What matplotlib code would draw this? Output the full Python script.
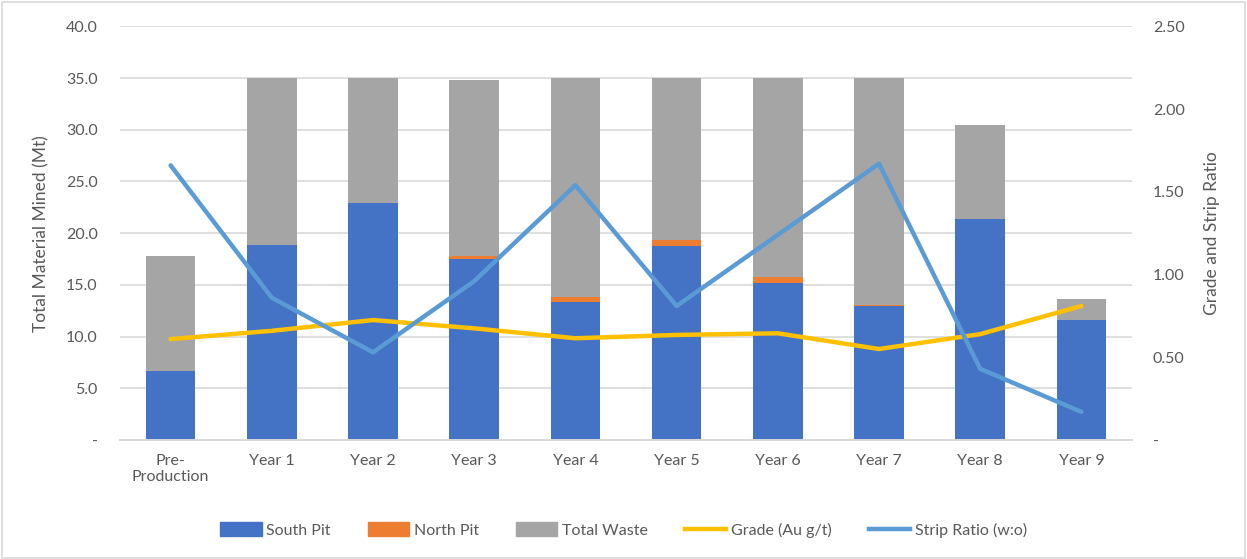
import matplotlib
matplotlib.use("Agg")
import matplotlib.pyplot as plt
from matplotlib.patches import Patch, Rectangle
from matplotlib.lines import Line2D
from matplotlib.ticker import FixedLocator, FuncFormatter
import numpy as np

plt.rcParams['font.family'] = ['Lato', 'DejaVu Sans']

categories = ["Pre-\nProduction", "Year 1", "Year 2", "Year 3", "Year 4",
              "Year 5", "Year 6", "Year 7", "Year 8", "Year 9"]
south_pit = [6.67, 18.86, 22.95, 17.47, 13.38, 18.76, 15.15, 12.99, 21.37, 11.60]
north_pit = [0.00, 0.00, 0.00, 0.33, 0.42, 0.58, 0.58, 0.05, 0.00, 0.00]
total_waste = [11.13, 16.14, 12.05, 17.00, 21.20, 15.66, 19.27, 21.96, 9.13, 2.07]
grade = [0.61, 0.66, 0.725, 0.675, 0.615, 0.635, 0.645, 0.55, 0.64, 0.81]
strip_ratio = [1.66, 0.86, 0.53, 0.96, 1.54, 0.81, 1.24, 1.67, 0.43, 0.17]

C_SOUTH = "#4472C4"
C_NORTH = "#ED7D31"
C_WASTE = "#A5A5A5"
C_GRADE = "#FFC000"
C_STRIP = "#5B9BD5"
TXT = "#595959"
GRID = "#D9D9D9"

fig = plt.figure(figsize=(12.47, 5.59), dpi=100)
ax = fig.add_axes([120 / 1247, 1 - 440 / 559, (1132 - 120) / 1247, (440 - 26.4) / 559])
ax2 = ax.twinx()

x = np.arange(len(categories))
w = 0.49
south = np.array(south_pit)
north = np.array(north_pit)
waste = np.array(total_waste)
ax.bar(x, south, w, color=C_SOUTH, zorder=2)
ax.bar(x, north, w, bottom=south, color=C_NORTH, zorder=2)
ax.bar(x, waste, w, bottom=south + north, color=C_WASTE, zorder=2)

ax2.plot(x, grade, color=C_GRADE, lw=3.2, solid_capstyle="round", solid_joinstyle="round")
ax2.plot(x, strip_ratio, color=C_STRIP, lw=3.2, solid_capstyle="round", solid_joinstyle="round")

ax.set_xlim(-0.5, len(categories) - 0.5)
ax.set_ylim(0, 40)
ax2.set_ylim(0, 2.5)

ax.yaxis.set_major_locator(FixedLocator(np.arange(0, 40.1, 5)))
ax.yaxis.set_major_formatter(FuncFormatter(lambda v, p: "-" if v == 0 else f"{v:.1f}"))
ax2.yaxis.set_major_locator(FixedLocator(np.arange(0, 2.51, 0.5)))
ax2.yaxis.set_major_formatter(FuncFormatter(lambda v, p: "-" if v == 0 else f"{v:.2f}"))

ax.grid(axis="y", color=GRID, lw=1.2, zorder=0)
ax.set_axisbelow(True)
for a in (ax, ax2):
    for s in ("top", "left", "right"):
        a.spines[s].set_visible(False)
    a.spines["bottom"].set_color(GRID)
    a.spines["bottom"].set_linewidth(1.2)
    a.tick_params(length=0, colors=TXT, labelsize=11.5)

ax.set_xticks(x)
ax.set_xticklabels(categories, color=TXT, fontsize=11.5)
ax.tick_params(axis="x", pad=10)
ax.tick_params(axis="y", pad=16)
ax2.tick_params(axis="y", pad=15)

ax.set_ylabel("Total Material Mined (Mt)", color=TXT, fontsize=12.5, labelpad=12)
ax2.set_ylabel("Grade and Strip Ratio", color=TXT, fontsize=12.5, labelpad=14)

handles = [
    Patch(color=C_SOUTH, label="South Pit"),
    Patch(color=C_NORTH, label="North Pit"),
    Patch(color=C_WASTE, label="Total Waste"),
    Line2D([0], [0], color=C_GRADE, lw=3.2, label="Grade (Au g/t)"),
    Line2D([0], [0], color=C_STRIP, lw=3.2, label="Strip Ratio (w:o)"),
]
leg = fig.legend(handles=handles, loc="center", bbox_to_anchor=(0.5, 1 - 530 / 559),
                 ncol=5, frameon=False, fontsize=11.5, handlelength=2.6, handleheight=0.9,
                 handletextpad=0.3, columnspacing=2.3, labelcolor=TXT)

fig.patches.append(Rectangle((0.0015, 0.002), 0.997, 0.995, transform=fig.transFigure,
                             fill=False, edgecolor="#D9D9D9", lw=1.2))

fig.savefig("out.png", dpi=100, facecolor="white")
